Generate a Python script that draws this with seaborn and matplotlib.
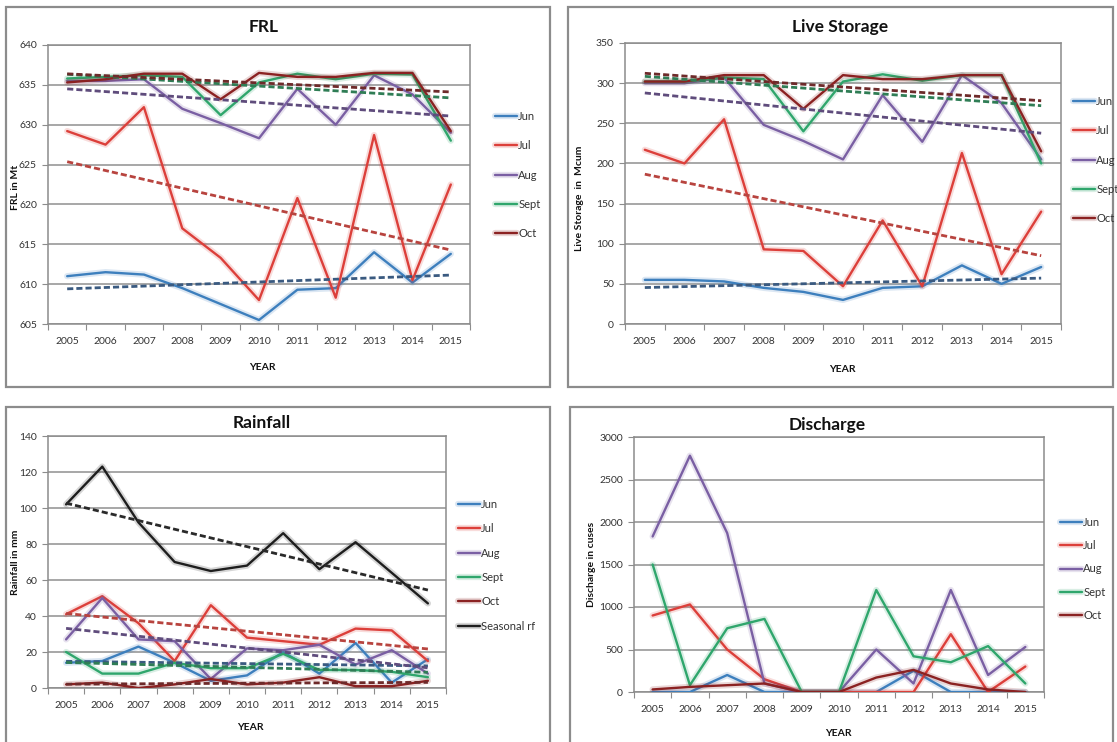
import numpy as np
import pandas as pd
import seaborn as sns
import matplotlib.pyplot as plt
import matplotlib.patheffects as pe
from matplotlib.patches import Rectangle

sns.set_theme(style="white")
plt.rcParams['font.family'] = ['Lato', 'DejaVu Sans']

years = ['2005', '2006', '2007', '2008', '2009', '2010', '2011', '2012', '2013', '2014', '2015']
months = ['Jun', 'Jul', 'Aug', 'Sept', 'Oct']

# Full reservoir level (ft)
frl_jun = [611.0, 611.5, 611.2, 609.5, 607.5, 605.5, 609.3, 609.5, 614.0, 610.2, 613.8]
frl_jul = [629.2, 627.5, 632.2, 617.0, 613.3, 608.0, 620.8, 608.3, 628.7, 610.5, 622.5]
frl_aug = [635.5, 635.5, 635.7, 632.0, 630.2, 628.3, 634.5, 630.0, 636.2, 633.8, 629.0]
frl_sept = [635.8, 636.0, 636.2, 636.0, 631.2, 635.3, 636.4, 635.7, 636.4, 636.3, 628.0]
frl_oct = [635.3, 635.7, 636.4, 636.4, 633.2, 636.5, 636.0, 636.0, 636.5, 636.5, 629.2]

# Live storage (Mcum)
ls_jun = [55, 55, 53, 45, 40, 30, 45, 47, 73, 50, 71]
ls_jul = [217, 200, 255, 93, 91, 47, 129, 47, 213, 62, 140]
ls_aug = [300, 300, 307, 248, 228, 205, 285, 227, 310, 275, 205]
ls_sept = [302, 302, 307, 305, 240, 302, 311, 303, 310, 310, 200]
ls_oct = [302, 302, 310, 310, 268, 310, 305, 305, 310, 310, 215]

# Rainfall (mm)
rf_jun = [14, 15, 23, 14, 4, 7, 20, 8, 25, 3, 16]
rf_jul = [41, 51, 36, 15, 46, 28, 26, 24, 33, 32, 15]
rf_aug = [27, 50, 27, 26, 5, 22, 21, 24, 13, 21, 8]
rf_sept = [20, 8, 8, 14, 11, 11, 19, 10, 10, 9, 6]
rf_oct = [2, 3, 0, 2, 5, 2, 3, 6, 1, 1, 4]
rf_seasonal = [102, 123, 92, 70, 65, 68, 86, 66, 81, 64, 47]

# Discharge (cusecs)
dc_jun = [0, 0, 200, 0, 0, 0, 0, 250, 0, 0, 0]
dc_jul = [900, 1030, 500, 150, 0, 0, 0, 0, 680, 0, 300]
dc_aug = [1830, 2780, 1870, 100, 0, 0, 500, 100, 1200, 200, 530]
dc_sept = [1500, 80, 750, 860, 0, 0, 1200, 420, 350, 540, 100]
dc_oct = [30, 60, 80, 100, 0, 0, 170, 260, 100, 30, 0]

palette = {'Jun': '#3d7fbd', 'Jul': '#dc3f3a', 'Aug': '#7a5fa3', 'Sept': '#2fa66c',
           'Oct': '#8b2222', 'Seasonal rf': '#1e1e1e'}
trend_colors = {'Jun': '#3a5a80', 'Jul': '#b8443f', 'Aug': '#5f4c7c', 'Sept': '#2f7d55',
                'Oct': '#6e2a2a', 'Seasonal rf': '#2a2a2a'}

W, H = 1117, 742
fig = plt.figure(figsize=(W / 100, H / 100), dpi=100)
fig.patch.set_facecolor('white')


def px_axes(x0, y0, x1, y1):
    return fig.add_axes([x0 / W, 1 - y1 / H, (x1 - x0) / W, (y1 - y0) / H])


def panel_border(x0, y0, x1, y1):
    fig.patches.append(Rectangle((x0 / W, 1 - y1 / H), (x1 - x0) / W, (y1 - y0) / H,
                                 transform=fig.transFigure, fill=False,
                                 edgecolor='#8c8c8c', linewidth=1.6, zorder=0))


def draw_panel(ax, series, ylim, ystep, title, title_xy, ylabel, ylabel_xy, xlabel_xy,
               legend_xy, legend_spacing, trends=True):
    names = list(series.keys())
    df = pd.DataFrame({
        'idx': np.tile(np.arange(len(years)), len(names)),
        'value': np.concatenate([series[n] for n in names]),
        'series': np.repeat(names, len(years)),
    })
    sns.lineplot(data=df, x='idx', y='value', hue='series', hue_order=names,
                 palette=palette, linewidth=1.7, legend=False, ax=ax, zorder=3)
    data_lines = list(ax.lines)
    for ln in data_lines:
        ln.set_path_effects([pe.Stroke(linewidth=4.5, foreground=ln.get_color(), alpha=0.18),
                             pe.Normal()])
    if trends:
        for n in names:
            sub = df[df['series'] == n]
            sns.regplot(data=sub, x='idx', y='value', scatter=False, ci=None, truncate=True,
                        ax=ax, line_kws=dict(color=trend_colors[n], linewidth=2.0,
                                             linestyle=(0, (2.2, 1.1)), zorder=4))
    ax.set_xlim(-0.5, len(years) - 0.5)
    ax.set_ylim(*ylim)
    ax.set_yticks(np.arange(ylim[0], ylim[1] + ystep / 2, ystep))
    ax.set_xticks(np.arange(len(years)))
    ax.set_xticklabels(years)
    ax.set_xticks(np.arange(-0.5, len(years)), minor=True)
    ax.tick_params(axis='x', which='major', length=0, labelsize=7.5, pad=9, colors='#333333')
    ax.tick_params(axis='x', which='minor', length=4, width=0.8, color='#8c8c8c',
                   direction='out', bottom=True)
    ax.tick_params(axis='y', which='major', length=4, width=0.8, color='#8c8c8c',
                   direction='out', left=True, labelsize=7.5, pad=4, labelcolor='#333333')
    ax.yaxis.grid(True, color='#8f8f8f', linewidth=1.1)
    ax.set_axisbelow(True)
    for sp in ax.spines.values():
        sp.set_color('#8c8c8c')
        sp.set_linewidth(1.1)
    ax.set_xlabel('')
    ax.set_ylabel('')
    fig.text(title_xy[0] / W, 1 - title_xy[1] / H, title, ha='center', va='center',
             fontsize=12.5, fontweight='bold', color='#111111')
    fig.text(ylabel_xy[0] / W, 1 - ylabel_xy[1] / H, ylabel, ha='center', va='center',
             rotation=90, fontsize=7.5, fontweight='bold', color='#111111')
    fig.text(xlabel_xy[0] / W, 1 - xlabel_xy[1] / H, 'YEAR', ha='center', va='center',
             fontsize=7.5, fontweight='bold', color='#111111')
    fig.legend(data_lines, names, loc='upper left',
               bbox_to_anchor=(legend_xy[0] / W, 1 - legend_xy[1] / H),
               bbox_transform=fig.transFigure, frameon=False, fontsize=8,
               handlelength=2.0, handletextpad=0.1, borderpad=0, borderaxespad=0,
               labelspacing=legend_spacing, labelcolor='#333333')


# Panel frames
panel_border(6, 7, 550, 387)
panel_border(568, 7, 1113, 387)
panel_border(6, 407, 550, 760)
panel_border(570, 407, 1113, 760)

ax1 = px_axes(48, 45, 470, 324)
draw_panel(ax1, {'Jun': frl_jun, 'Jul': frl_jul, 'Aug': frl_aug, 'Sept': frl_sept, 'Oct': frl_oct},
           (605, 640), 5, 'FRL', (264, 27), 'FRL in Mt', (16, 187), (262, 368),
           (495, 111), 1.65)

ax2 = px_axes(625, 43, 1061, 324)
draw_panel(ax2, {'Jun': ls_jun, 'Jul': ls_jul, 'Aug': ls_aug, 'Sept': ls_sept, 'Oct': ls_oct},
           (0, 350), 50, 'Live Storage', (840, 27), 'Live Storage  in  Mcum', (580, 198),
           (842, 370), (1073, 96), 1.65)

ax3 = px_axes(48, 436, 446, 688)
draw_panel(ax3, {'Jun': rf_jun, 'Jul': rf_jul, 'Aug': rf_aug, 'Sept': rf_sept, 'Oct': rf_oct,
                 'Seasonal rf': rf_seasonal},
           (0, 140), 20, 'Rainfall', (262, 423), 'Rainfall in mm', (16, 562), (250, 728),
           (458, 499), 1.2)

ax4 = px_axes(634, 437, 1044, 692)
draw_panel(ax4, {'Jun': dc_jun, 'Jul': dc_jul, 'Aug': dc_aug, 'Sept': dc_sept, 'Oct': dc_oct},
           (0, 3000), 500, 'Discharge', (827, 425), 'Discharge in cuses', (591, 564),
           (838, 733), (1060, 517), 1.1, trends=False)

fig.savefig('out.png', dpi=100)
